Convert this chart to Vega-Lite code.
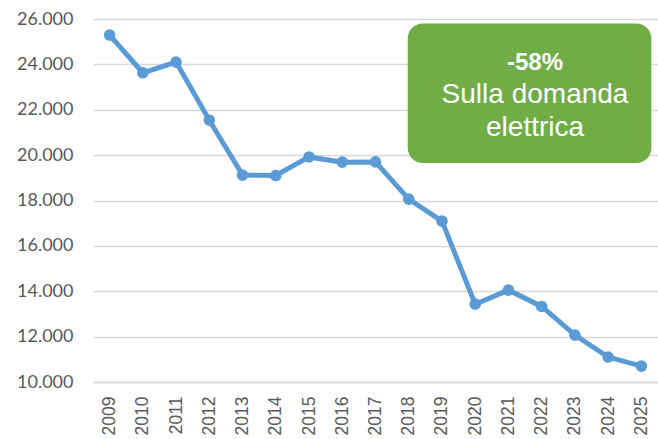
{
  "$schema": "https://vega.github.io/schema/vega-lite/v6.json",
  "width": 565,
  "height": 363,
  "autosize": {"type": "none"},
  "padding": {"left": 93, "top": 19, "right": 0, "bottom": 57},
  "background": "white",
  "config": {"view": {"stroke": null}},
  "datasets": {
    "series": [
      {"year": "2009", "value": 25290},
      {"year": "2010", "value": 23630},
      {"year": "2011", "value": 24100},
      {"year": "2012", "value": 21540},
      {"year": "2013", "value": 19120},
      {"year": "2014", "value": 19100},
      {"year": "2015", "value": 19920},
      {"year": "2016", "value": 19690},
      {"year": "2017", "value": 19700},
      {"year": "2018", "value": 18060},
      {"year": "2019", "value": 17090},
      {"year": "2020", "value": 13430},
      {"year": "2021", "value": 14050},
      {"year": "2022", "value": 13330},
      {"year": "2023", "value": 12070},
      {"year": "2024", "value": 11100},
      {"year": "2025", "value": 10700}
    ],
    "box": [{"x1": 2017.97, "x2": 2025.3, "y1": 19650, "y2": 25800}],
    "boxtext": [
      {"x": 2021.8, "y": 24050, "label": "-58%", "bold": true},
      {"x": 2021.8, "y": 22640, "label": "Sulla domanda", "bold": false},
      {"x": 2021.8, "y": 21190, "label": "elettrica", "bold": false}
    ]
  },
  "layer": [
    {
      "data": {"name": "series"},
      "mark": {"type": "line", "color": "#5B9BD5", "strokeWidth": 5, "point": {"filled": true, "size": 135, "color": "#5B9BD5"}},
      "encoding": {
        "x": {
          "field": "year", "type": "ordinal",
          "scale": {"type": "point", "padding": 0.5},
          "axis": {
            "title": null, "labelAngle": 270, "labelAlign": "right", "labelBaseline": "middle",
            "labelPadding": 14, "ticks": false, "grid": false, "domainColor": "#D9D9D9", "domainWidth": 1.5,
            "labelFont": "Liberation Sans", "labelFontSize": 17.5, "labelColor": "#595959", "labelOverlap": false
          }
        },
        "y": {
          "field": "value", "type": "quantitative",
          "scale": {"domain": [10000, 26000], "nice": false, "zero": false},
          "axis": {
            "title": null, "values": [10000,12000,14000,16000,18000,20000,22000,24000,26000],
            "labelExpr": "replace(format(datum.value, ',.0f'), ',', '.')",
            "ticks": false, "domain": false, "gridColor": "#D9D9D9", "gridWidth": 1.5,
            "labelPadding": 20, "labelFont": "Lato", "labelFontSize": 18, "labelColor": "#595959"
          }
        }
      }
    },
    {
      "layer": [
        {
          "data": {"name": "box"},
          "mark": {"type": "rect", "color": "#70AD47", "cornerRadius": 15},
          "encoding": {
            "x": {"field": "x1", "type": "quantitative", "scale": {"domain": [2008.5, 2025.5], "nice": false, "zero": false}, "axis": null},
            "x2": {"field": "x2"},
            "y": {"field": "y1", "type": "quantitative"},
            "y2": {"field": "y2"}
          }
        },
        {
          "data": {"name": "boxtext"},
          "transform": [{"filter": "datum.bold"}],
          "mark": {"type": "text", "color": "white", "font": "Liberation Sans", "fontWeight": "bold", "fontSize": 24, "align": "center", "baseline": "middle"},
          "encoding": {
            "x": {"field": "x", "type": "quantitative"},
            "y": {"field": "y", "type": "quantitative"},
            "text": {"field": "label"}
          }
        },
        {
          "data": {"name": "boxtext"},
          "transform": [{"filter": "!datum.bold"}],
          "mark": {"type": "text", "color": "white", "font": "Liberation Sans", "fontSize": 28, "align": "center", "baseline": "middle"},
          "encoding": {
            "x": {"field": "x", "type": "quantitative"},
            "y": {"field": "y", "type": "quantitative"},
            "text": {"field": "label"}
          }
        }
      ]
    }
  ],
  "resolve": {"scale": {"x": "independent"}, "axis": {"x": "independent"}}
}
